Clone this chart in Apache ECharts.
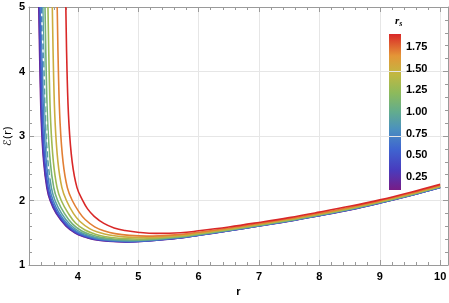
<!DOCTYPE html>
<html><head><meta charset="utf-8">
<script src="https://cdn.jsdelivr.net/npm/echarts@6/dist/echarts.min.js"></script>
<style>html,body{margin:0;padding:0;background:#fff}#c{width:449px;height:303px}</style>
</head><body><div id="c"></div>
<script>
// r_s parameter of each curve
const rsValues = [0.1, 0.3, 0.5, 0.7, 0.9, 1.1, 1.3, 1.5, 1.7, 1.9];
// E(r) curves, [r, E]
const E_rs01 = [[3.352,5],[3.372,4],[3.395,3.2],[3.433,2.6],[3.485,2.2],[3.54,2.0],[3.64,1.8],[3.80,1.607],[3.955,1.497],[4.11,1.437],[4.26,1.397],[4.5,1.369],[4.8,1.357],[5.7,1.42],[6,1.46],[6.5,1.53],[7,1.605],[7.5,1.68],[8,1.765],[8.5,1.855],[9,1.96],[9.5,2.075],[10,2.2]];
const E_rs03 = [[3.359,5],[3.379,4],[3.402,3.2],[3.440,2.6],[3.493,2.2],[3.548,2.0],[3.649,1.8],[3.807,1.609],[3.962,1.499],[4.117,1.439],[4.268,1.399],[4.508,1.371],[4.808,1.359],[5.7,1.421],[6,1.461],[6.5,1.531],[7,1.606],[7.5,1.681],[8,1.766],[8.5,1.856],[9,1.961],[9.5,2.076],[10,2.201]];
const E_rs05 = [[3.372,5],[3.392,4],[3.416,3.2],[3.454,2.6],[3.508,2.2],[3.564,2.0],[3.667,1.8],[3.821,1.613],[3.976,1.503],[4.132,1.443],[4.283,1.403],[4.523,1.375],[4.823,1.363],[5.7,1.424],[6,1.463],[6.5,1.533],[7,1.608],[7.5,1.683],[8,1.768],[8.5,1.858],[9,1.962],[9.5,2.077],[10,2.202]];
const E_rs07 = [[3.392,5],[3.412,4],[3.436,3.2],[3.476,2.6],[3.530,2.2],[3.589,2.0],[3.693,1.8],[3.842,1.619],[3.998,1.509],[4.154,1.449],[4.307,1.409],[4.547,1.381],[4.845,1.369],[5.7,1.427],[6,1.466],[6.5,1.535],[7,1.610],[7.5,1.685],[8,1.770],[8.5,1.860],[9,1.965],[9.5,2.080],[10,2.205]];
const E_rs09 = [[3.419,5],[3.439,4],[3.463,3.2],[3.504,2.6],[3.560,2.2],[3.621,2.0],[3.729,1.8],[3.871,1.627],[4.026,1.517],[4.184,1.457],[4.338,1.417],[4.578,1.389],[4.875,1.377],[5.7,1.432],[6,1.471],[6.5,1.539],[7,1.613],[7.5,1.688],[8,1.773],[8.5,1.863],[9,1.968],[9.5,2.083],[10,2.208]];
const E_rs11 = [[3.455,5],[3.475,4],[3.500,3.2],[3.542,2.6],[3.600,2.2],[3.664,2.0],[3.776,1.8],[3.908,1.638],[4.064,1.528],[4.223,1.468],[4.380,1.428],[4.620,1.400],[4.915,1.388],[5.7,1.438],[6,1.476],[6.5,1.544],[7,1.618],[7.5,1.693],[8,1.778],[8.5,1.868],[9,1.972],[9.5,2.087],[10,2.212]];
const E_rs13 = [[3.504,5],[3.524,4],[3.550,3.2],[3.594,2.6],[3.655,2.2],[3.724,2.0],[3.841,1.8],[3.960,1.652],[4.117,1.542],[4.277,1.482],[4.437,1.442],[4.677,1.414],[4.970,1.402],[5.7,1.447],[6,1.484],[6.5,1.550],[7,1.624],[7.5,1.699],[8,1.784],[8.5,1.874],[9,1.977],[9.5,2.092],[10,2.217]];
const E_rs15 = [[3.576,5],[3.596,4],[3.623,3.2],[3.669,2.6],[3.735,2.2],[3.810,2.0],[3.925,1.8],[4.035,1.674],[4.193,1.564],[4.355,1.504],[4.520,1.464],[4.760,1.436],[5.050,1.424],[5.7,1.460],[6,1.495],[6.5,1.560],[7,1.633],[7.5,1.708],[8,1.793],[8.5,1.883],[9,1.985],[9.5,2.100],[10,2.225]];
const E_rs17 = [[3.657,5],[3.677,4],[3.705,3.2],[3.754,2.6],[3.825,2.2],[3.907,2.0],[4.020,1.82],[4.120,1.705],[4.278,1.592],[4.443,1.527],[4.614,1.487],[4.854,1.459],[5.140,1.447],[5.7,1.474],[6,1.508],[6.5,1.571],[7,1.642],[7.5,1.717],[8,1.802],[8.5,1.892],[9,1.994],[9.5,2.109],[10,2.234]];
const E_rs19 = [[3.800,5],[3.820,4],[3.851,3.2],[3.905,2.6],[3.985,2.2],[4.080,2.0],[4.160,1.87],[4.270,1.755],[4.430,1.645],[4.600,1.575],[4.780,1.535],[5.020,1.505],[5.300,1.49],[5.7,1.50],[6,1.53],[6.5,1.59],[7,1.66],[7.5,1.735],[8,1.82],[8.5,1.91],[9,2.01],[9.5,2.125],[10,2.25]];
const curves = [E_rs01,E_rs03,E_rs05,E_rs07,E_rs09,E_rs11,E_rs13,E_rs15,E_rs17,E_rs19];
// white dashed overlay seen near the wall
const whiteDash = [[3.40,4.9],[3.425,4.25],[3.46,3.6],[3.49,3.0],[3.515,2.5],[3.55,2.3]];
// tick labels
const xTicks = [4,5,6,7,8,9,10];
const yTicks = [1,2,3,4,5];
const colorbarTicks = [0.25,0.5,0.75,1.0,1.25,1.5,1.75];
const rsMin = 0.1, rsMax = 1.9;

const cmap = [[0,[120,28,134]],[0.13,[72,60,190]],[0.26,[63,100,208]],[0.39,[75,145,190]],[0.5,[98,172,142]],[0.62,[140,186,92]],[0.74,[192,184,66]],[0.86,[228,150,55]],[1,[217,40,40]]];
function colorAt(t){
  for(let i=1;i<cmap.length;i++){
    if(t<=cmap[i][0]){
      const a=cmap[i-1], b=cmap[i], f=(t-a[0])/(b[0]-a[0]);
      const c=a[1].map((v,k)=>Math.round(v+(b[1][k]-v)*f));
      return 'rgb('+c.join(',')+')';
    }
  }
  return 'rgb('+cmap[cmap.length-1][1].join(',')+')';
}
const chart = echarts.init(document.getElementById('c'));
const frameColor = '#9a9a9a';
const lbl = {color:'#000', fontWeight:'bold', fontSize:11, fontFamily:'Liberation Sans, Arial, sans-serif'};
const series = curves.map((d,i)=>({
  type:'line', data:d, xAxisIndex:0, yAxisIndex:0, showSymbol:false, smooth:0.4,
  clip:true, lineStyle:{width:1.6, color:colorAt((rsValues[i]-rsMin)/(rsMax-rsMin))}, z:2+i, silent:true
}));
series.push({type:'line', data:whiteDash, xAxisIndex:0, yAxisIndex:0, showSymbol:false, smooth:0.3,
  lineStyle:{width:1.4, color:'#fff', type:[3,6]}, z:20, silent:true});
series.push({type:'line', data:[], xAxisIndex:2, yAxisIndex:2});
const grad = new echarts.graphic.LinearGradient(0,0,0,1, cmap.slice().reverse().map(s=>({offset:1-s[0], color:'rgb('+s[1].join(',')+')'})));
const xFrame = {
  axisLine:{show:true, lineStyle:{color:frameColor}},
  axisTick:{show:true, inside:true, length:5, lineStyle:{color:frameColor}},
  minorTick:{show:true, splitNumber:5, length:3, lineStyle:{color:frameColor}}
};
const option = {
  animation:false,
  grid:[
    {left:29, right:1, top:7, bottom:38, containLabel:false, outerBoundsMode:'none'},
    {left:389, width:12, top:34, height:156, show:true, backgroundColor:grad, borderWidth:0, containLabel:false, outerBoundsMode:'none'}
  ],
  xAxis:[
    Object.assign({type:'value', gridIndex:0, min:3.19, max:10.13, splitNumber:7, position:'bottom',
     axisLabel:Object.assign({margin:6, customValues:xTicks}, lbl),
     splitLine:{show:true, lineStyle:{color:'#e6e6e6', width:1}},
     name:'r', nameLocation:'middle', nameGap:21, nameMoveOverlap:false,
     nameTextStyle:{color:'#000', fontSize:11, fontWeight:'bold', fontFamily:'Liberation Sans, Arial, sans-serif'}}, xFrame),
    Object.assign({type:'value', gridIndex:0, min:3.19, max:10.13, splitNumber:7, position:'top',
     axisLabel:{show:false}, splitLine:{show:false}}, xFrame),
    {type:'value', gridIndex:1, min:0, max:1, show:false}
  ],
  yAxis:[
    Object.assign({type:'value', gridIndex:0, min:1, max:5, interval:1, position:'left',
     axisLabel:Object.assign({margin:4, customValues:yTicks}, lbl),
     splitLine:{show:true, lineStyle:{color:'#e6e6e6', width:1}},
     name:'ℰ(r)', nameLocation:'middle', nameGap:15, nameRotate:90, nameMoveOverlap:false,
     nameTextStyle:{color:'#000', fontSize:11, fontFamily:'DejaVu Sans, sans-serif'}}, xFrame),
    Object.assign({type:'value', gridIndex:0, min:1, max:5, interval:1, position:'right',
     axisLabel:{show:false}, splitLine:{show:false}}, xFrame),
    {type:'value', gridIndex:1, min:rsMin, max:rsMax, position:'right',
     axisLine:{show:false}, axisTick:{show:false}, splitLine:{show:false},
     axisLabel:Object.assign({margin:5, customValues:colorbarTicks, formatter:v=>v.toFixed(2)}, lbl)}
  ],
  title:{text:'{r|r}{s|s}', left:390, top:10, textStyle:{rich:{
    r:{fontStyle:'italic', fontWeight:'bold', fontSize:11, color:'#000', fontFamily:'Liberation Serif, serif'},
    s:{fontStyle:'italic', fontWeight:'bold', fontSize:8, color:'#000', verticalAlign:'bottom', padding:[5,0,0,0], fontFamily:'Liberation Serif, serif'}}}},
  series:series
};
chart.setOption(option);
</script></body></html>
